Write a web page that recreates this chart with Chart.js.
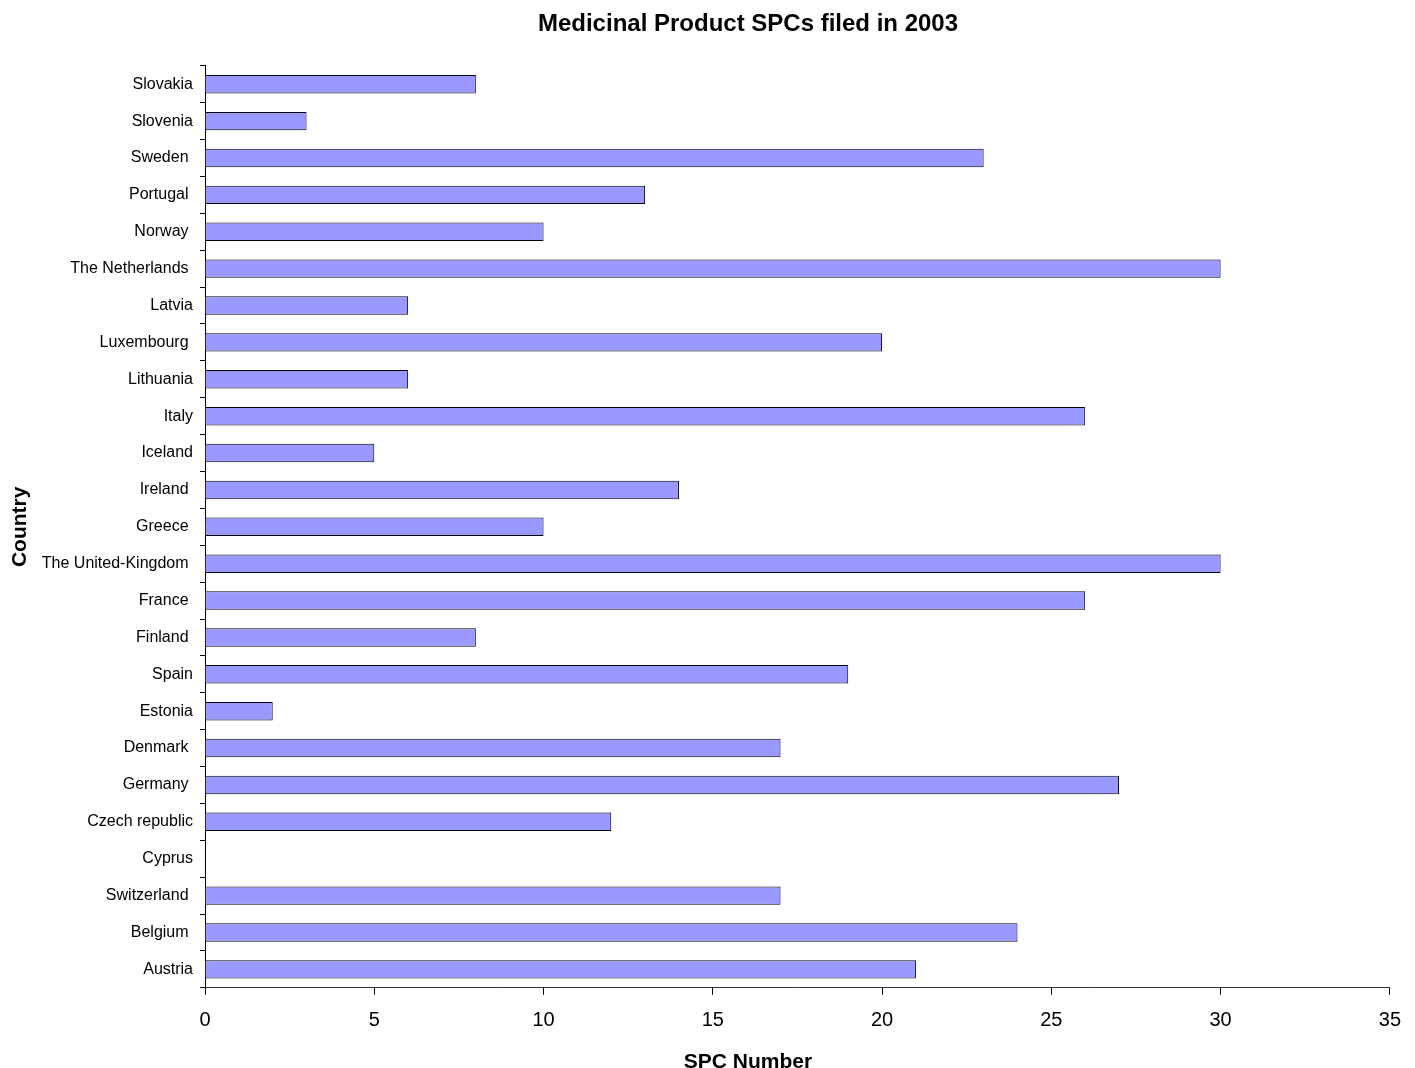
<!DOCTYPE html>
<html lang="en">
<head>
    <meta charset="UTF-8">
    <title>Medicinal Product SPCs filed in 2003</title>
    <style>
        body {
            margin: 0;
            padding: 0;
            background: #fff;
        }
    </style>
</head>
<body>
    <canvas id="spc-chart" width="1415" height="1068"></canvas>

    <script src="https://cdn.jsdelivr.net/npm/chart.js"></script>
    <script>
        // bottom to top, as in the chart (trailing spaces kept as in the original labels)
        const countries = [
            'Austria', 'Belgium ', 'Switzerland ', 'Cyprus', 'Czech republic',
            'Germany ', 'Denmark ', 'Estonia', 'Spain', 'Finland ',
            'France ', 'The United-Kingdom ', 'Greece ', 'Ireland ', 'Iceland',
            'Italy', 'Lithuania', 'Luxembourg ', 'Latvia', 'The Netherlands ',
            'Norway ', 'Portugal ', 'Sweden ', 'Slovenia', 'Slovakia'
        ];
        const spcNumbers = [
            21, 24, 17, 0, 12,
            27, 17, 2, 19, 8,
            26, 30, 10, 14, 5,
            26, 6, 20, 6, 30,
            10, 13, 23, 3, 8
        ];
        const xMin = 0;
        const xMax = 35;
        const xStep = 5;

        const fontFamily = '"Liberation Sans", Arial, sans-serif';

        const ctx = document.getElementById('spc-chart').getContext('2d');
        new Chart(ctx, {
            type: 'bar',
            data: {
                labels: countries,
                datasets: [{
                    label: 'SPC Number',
                    data: spcNumbers,
                    backgroundColor: '#9999ff',
                    borderColor: '#000000',
                    borderWidth: 1,
                    barPercentage: 0.5,
                    categoryPercentage: 1.0
                }]
            },
            options: {
                indexAxis: 'y',
                responsive: false,
                animation: false,
                // negative right padding + empty right axis: titles sit a bit right of canvas centre
                layout: {
                    padding: { left: 0, right: -81, top: 0, bottom: 0 }
                },
                plugins: {
                    legend: { display: false },
                    tooltip: { enabled: false },
                    title: {
                        display: true,
                        text: 'Medicinal Product SPCs filed in 2003',
                        color: '#000',
                        font: { family: fontFamily, size: 24, weight: 'bold' },
                        padding: { top: 10, bottom: 27 }
                    },
                    subtitle: {
                        display: true,
                        position: 'bottom',
                        text: 'SPC Number',
                        color: '#000',
                        font: { family: fontFamily, size: 21, weight: 'bold' },
                        padding: { top: 0, bottom: -7 }
                    }
                },
                scales: {
                    x: {
                        min: xMin,
                        max: xMax,
                        ticks: {
                            stepSize: xStep,
                            color: '#000',
                            padding: 14,
                            font: { family: fontFamily, size: 20 }
                        },
                        grid: {
                            drawOnChartArea: false,
                            drawTicks: true,
                            tickLength: 7,
                            color: '#000'
                        },
                        border: { display: true, color: '#333' },
                        afterFit: (scale) => { scale.height = 62; }
                    },
                    y: {
                        reverse: true,
                        ticks: {
                            autoSkip: false,
                            color: '#000',
                            padding: 7,
                            font: { family: fontFamily, size: 16 }
                        },
                        grid: {
                            drawOnChartArea: false,
                            drawTicks: true,
                            tickLength: 5,
                            offset: true,
                            color: '#000'
                        },
                        border: { display: true, color: '#000' },
                        title: {
                            display: true,
                            text: 'Country',
                            color: '#000',
                            font: { family: fontFamily, size: 21, weight: 'bold' },
                            padding: { top: 8, bottom: 0 }
                        },
                        afterFit: (scale) => { scale.width = 205; }
                    },
                    spacer: {
                        type: 'linear',
                        position: 'right',
                        ticks: { display: false },
                        grid: { display: false },
                        border: { display: false },
                        afterFit: (scale) => { scale.width = 106; }
                    }
                }
            }
        });
    </script>
</body>
</html>
